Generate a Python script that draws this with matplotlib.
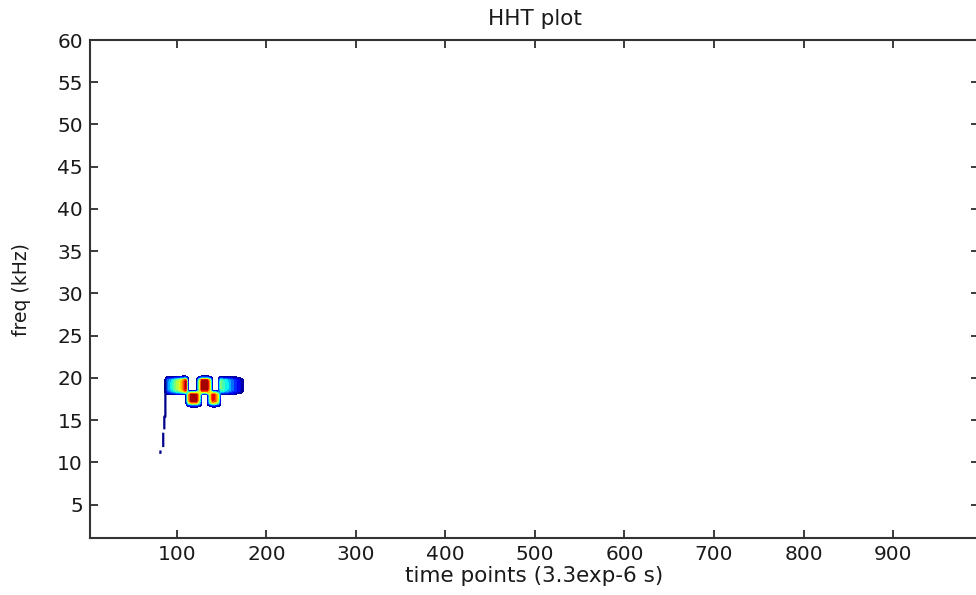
import numpy as np
import matplotlib
matplotlib.use("Agg")
import matplotlib.pyplot as plt

# Time samples (in points) and frequency rows (kHz) of the energy grid
time_pts = [86, 89, 92, 95, 98, 101, 104, 107, 110, 113, 116, 119, 122, 125, 128,
            131, 134, 137, 140, 143, 146, 149, 152, 155, 158, 161, 164, 167, 170, 173, 176]
freq_rows = [16.5, 16.75, 17.0, 17.25, 17.5, 17.75, 18.0, 18.25, 18.5, 18.75,
             19.0, 19.25, 19.5, 19.75, 20.0, 20.25, 20.5]

# Energy along time for the upper (~19 kHz) and lower (~18 kHz) ridges
upper_energy = [0, .25, .32, .40, .50, .58, .66, .80, .97, 0, 0, 0, 0, .55, 1.0,
                1.0, 1.0, .65, 0, 0, 0, .50, .45, .40, .34, .28, .22, .16, .11, .06, 0]
lower_energy = [0, 0, 0, 0, 0, 0, 0, 0, 0, .70, 1.0, 1.0, 1.0, .60, 0,
                0, 0, .55, .92, .85, .62, 0, 0, 0, 0, 0, 0, 0, 0, 0, 0]

# Spread of each ridge across the frequency rows
upper_spread = [0, 0, 0, 0, 0, 0, 0, .55, .92, 1.0, 1.0, 1.0, 1.0, .9, .3, 0, 0]
lower_spread = [0, .2, .7, .95, 1.0, 1.0, 1.0, .6, 0, 0, 0, 0, 0, 0, 0, 0, 0]

# Low-energy trace below the main ridge
trace_t = [87.2, 87.2, 86.0, 86.0, np.nan, 84.8, 84.8, np.nan, 81.8, 81.5]
trace_f = [19.8, 15.4, 15.4, 13.9, np.nan, 13.5, 11.8, np.nan, 11.4, 11.0]

x_ticks = [100, 200, 300, 400, 500, 600, 700, 800, 900]
y_ticks = [5, 10, 15, 20, 25, 30, 35, 40, 45, 50, 55, 60]

energy = (np.outer(upper_spread, upper_energy) + np.outer(lower_spread, lower_energy))

plt.rcParams["font.family"] = ["DejaVu Sans"]

fig = plt.figure(figsize=(9.76, 5.95), dpi=100)
W, H = 976, 595
x0, x1, y0, y1 = 90, 979, 40, 538.3
ax = fig.add_axes([x0 / W, 1 - y1 / H, (x1 - x0) / W, (y1 - y0) / H])

levels = np.linspace(0.03, 1.01, 16)
ax.contourf(time_pts, freq_rows, energy, levels=levels, cmap="jet")
ax.plot(trace_t, trace_f, color="#00008a", lw=1.6, solid_capstyle="butt")

ax.set_xlim(3, 996)
ax.set_ylim(1, 60)
ax.set_xticks(x_ticks)
ax.set_yticks(y_ticks)

txt = "#1a1a1a"
ax.tick_params(direction="in", length=6, width=1.2, top=True, right=True,
               labelsize=14.5, colors=txt, pad=5)
for s in ax.spines.values():
    s.set_linewidth(1.5)
    s.set_color("#333333")

ax.set_title("HHT plot", fontsize=15.5, color=txt, pad=11)
ax.set_xlabel("time points (3.3exp-6 s)", fontsize=15.5, color=txt, labelpad=1)
ax.set_ylabel("freq (kHz)", fontsize=13.5, color=txt, labelpad=19)

fig.savefig("out.png", dpi=100)
